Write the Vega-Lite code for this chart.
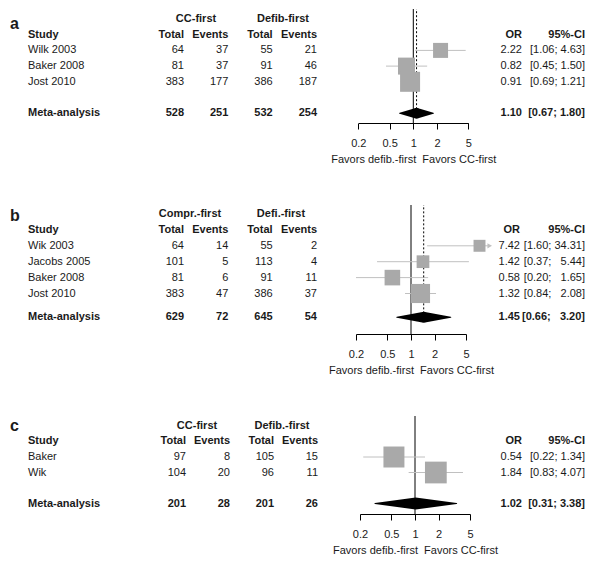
{
 "$schema": "https://vega.github.io/schema/vega-lite/v6.json",
 "padding": {"top": 8, "left": 0, "right": 0, "bottom": 0},
 "background": "white",
 "bounds": "flush",
 "spacing": 82,
 "config": {"font": "Liberation Sans", "view": {"stroke": null}, "scale": {"pointPadding": 0}},
 "datasets": {
  "table": [
   {"p":"a","r":0.34,"k":"head","letter":"a"},
   {"p":"a","r":0,"k":"head","g1":"CC-first","g2":"Defib-first"},
   {"p":"a","r":1,"k":"head","study":"Study","t1":"Total","e1":"Events","t2":"Total","e2":"Events","OR":"OR","CI":"95%-CI"},
   {"p":"a","r":2,"k":"study","study":"Wilk 2003","t1":64,"e1":37,"t2":55,"e2":21,"OR":"2.22","CI":"[1.06; 4.63]"},
   {"p":"a","r":3,"k":"study","study":"Baker 2008","t1":81,"e1":37,"t2":91,"e2":46,"OR":"0.82","CI":"[0.45; 1.50]"},
   {"p":"a","r":4,"k":"study","study":"Jost 2010","t1":383,"e1":177,"t2":386,"e2":187,"OR":"0.91","CI":"[0.69; 1.21]"},
   {"p":"a","r":6,"k":"meta","study":"Meta-analysis","t1":528,"e1":251,"t2":532,"e2":254,"OR":"1.10","CI":"[0.67; 1.80]"},
   {"p":"b","r":0.12,"k":"head","letter":"b"},
   {"p":"b","r":0,"k":"head","g1":"Compr.-first","g2":"Defi.-first"},
   {"p":"b","r":1,"k":"head","study":"Study","t1":"Total","e1":"Events","t2":"Total","e2":"Events","OR":"OR","CI":"95%-CI"},
   {"p":"b","r":2,"k":"study","study":"Wik 2003","t1":64,"e1":14,"t2":55,"e2":2,"OR":"7.42","CI":"[1.60; 34.31]"},
   {"p":"b","r":3,"k":"study","study":"Jacobs 2005","t1":101,"e1":5,"t2":113,"e2":4,"OR":"1.42","CI":"[0.37;\u00a0\u00a0\u00a05.44]"},
   {"p":"b","r":4,"k":"study","study":"Baker 2008","t1":81,"e1":6,"t2":91,"e2":11,"OR":"0.58","CI":"[0.20;\u00a0\u00a0\u00a01.65]"},
   {"p":"b","r":5,"k":"study","study":"Jost 2010","t1":383,"e1":47,"t2":386,"e2":37,"OR":"1.32","CI":"[0.84;\u00a0\u00a0\u00a02.08]"},
   {"p":"b","r":6.5,"k":"meta","study":"Meta-analysis","t1":629,"e1":72,"t2":645,"e2":54,"OR":"1.45","CI":"[0.66;\u00a0\u00a0\u00a03.20]"},
   {"p":"c","r":0,"k":"head","letter":"c"},
   {"p":"c","r":0,"k":"head","g1":"CC-first","g2":"Defib.-first"},
   {"p":"c","r":1,"k":"head","study":"Study","t1":"Total","e1":"Events","t2":"Total","e2":"Events","OR":"OR","CI":"95%-CI"},
   {"p":"c","r":2,"k":"study","study":"Baker","t1":97,"e1":8,"t2":105,"e2":15,"OR":"0.54","CI":"[0.22; 1.34]"},
   {"p":"c","r":3,"k":"study","study":"Wik","t1":104,"e1":20,"t2":96,"e2":11,"OR":"1.84","CI":"[0.83; 4.07]"},
   {"p":"c","r":5,"k":"meta","study":"Meta-analysis","t1":201,"e1":28,"t2":201,"e2":26,"OR":"1.02","CI":"[0.31; 3.38]"}
  ],
  "forest": [
   {"p":"a","r":2,"k":"study","or":2.22,"lo":1.06,"hi":4.63,"w":24.6},
   {"p":"a","r":3,"k":"study","or":0.82,"lo":0.45,"hi":1.50,"w":31.6},
   {"p":"a","r":4,"k":"study","or":0.91,"lo":0.69,"hi":1.21,"w":43.8},
   {"p":"a","r":6,"k":"meta","or":1.10,"lo":0.67,"hi":1.80},
   {"p":"b","r":2,"k":"study","or":7.42,"lo":1.60,"hi":34.31,"w":15.6},
   {"p":"b","r":3,"k":"study","or":1.42,"lo":0.37,"hi":5.44,"w":17.7},
   {"p":"b","r":4,"k":"study","or":0.58,"lo":0.20,"hi":1.65,"w":26.6},
   {"p":"b","r":5,"k":"study","or":1.32,"lo":0.84,"hi":2.08,"w":40.0},
   {"p":"b","r":6.5,"k":"meta","or":1.45,"lo":0.66,"hi":3.20},
   {"p":"c","r":2,"k":"study","or":0.54,"lo":0.22,"hi":1.34,"w":48.2},
   {"p":"c","r":3,"k":"study","or":1.84,"lo":0.83,"hi":4.07,"w":51.8},
   {"p":"c","r":5,"k":"meta","or":1.02,"lo":0.31,"hi":3.38}
  ]
 },
 "vconcat": [
  {
   "width": 600, "height": 114,
   "resolve": {"scale": {"x": "independent"}},
   "layer": [
    {"data":{"name":"table"},
     "transform":[{"filter":"datum.p === 'a'"},{"fold":["letter","study"],"as":["c","v"]},{"filter":"datum.v != null"}],
     "mark":{"type":"text","align":"left","baseline":"middle","fontSize":{"expr":"datum.c === 'letter' ? 16 : 11"},"fontWeight":{"expr":"datum.k === 'study' ? 'normal' : 'bold'"},"color":"#1a1a1a"},
     "encoding":{"x":{"field":"c","type":"nominal","scale":{"type":"point","padding":0,"domain":["letter","study"],"range":[10,28]},"axis":null},
      "y":{"field":"r","type":"quantitative","scale":{"domain":[-0.637,6.624],"reverse":true,"nice":false,"zero":false},"axis":null},
      "text":{"field":"v","type":"nominal"}}},
    {"data":{"name":"table"},
     "transform":[{"filter":"datum.p === 'a'"},{"fold":["t1","e1","t2","e2"],"as":["c","v"]},{"filter":"datum.v != null"}],
     "mark":{"type":"text","align":"right","baseline":"middle","fontSize":11,"fontWeight":{"expr":"datum.k === 'study' ? 'normal' : 'bold'"},"color":"#1a1a1a"},
     "encoding":{"x":{"field":"c","type":"nominal","scale":{"type":"point","padding":0,"domain":["t1","e1","t2","e2"],"range":[184,317]},"axis":null},
      "y":{"field":"r","type":"quantitative","scale":{"domain":[-0.637,6.624],"reverse":true,"nice":false,"zero":false},"axis":null},
      "text":{"field":"v","type":"nominal"}}},
    {"data":{"name":"table"},
     "transform":[{"filter":"datum.p === 'a'"},{"fold":["g1","g2"],"as":["c","v"]},{"filter":"datum.v != null"}],
     "mark":{"type":"text","align":"center","baseline":"middle","fontSize":11,"fontWeight":"bold","color":"#1a1a1a"},
     "encoding":{"x":{"field":"c","type":"nominal","scale":{"type":"point","padding":0,"domain":["g1","g2"],"range":[196,283]},"axis":null},
      "y":{"field":"r","type":"quantitative","scale":{"domain":[-0.637,6.624],"reverse":true,"nice":false,"zero":false},"axis":null},
      "text":{"field":"v","type":"nominal"}}},
    {"data":{"name":"table"},
     "transform":[{"filter":"datum.p === 'a'"},{"fold":["OR","CI"],"as":["c","v"]},{"filter":"datum.v != null"}],
     "mark":{"type":"text","align":"right","baseline":"middle","fontSize":11,"fontWeight":{"expr":"datum.k === 'study' ? 'normal' : 'bold'"},"color":"#1a1a1a"},
     "encoding":{"x":{"field":"c","type":"nominal","scale":{"type":"point","padding":0,"domain":["OR","CI"],"range":[522,585]},"axis":null},
      "y":{"field":"r","type":"quantitative","scale":{"domain":[-0.637,6.624],"reverse":true,"nice":false,"zero":false},"axis":null},
      "text":{"field":"v","type":"nominal"}}},
    {"data":{"name":"forest"},
     "transform":[{"filter":"datum.p === 'a' && datum.k === 'meta'"}],
     "mark":{"type":"rule","color":"#000","strokeWidth":1},
     "encoding":{"x":{"datum":1,"type":"quantitative","scale":{"type":"log","domain":[0.2,5],"range":[358.3,468.3],"nice":false},
        "axis":{"values":[0.2,0.5,1,2,5],"format":"~g","domain":true,"domainColor":"#000","grid":false,"ticks":true,"tickSize":6,"tickColor":"#000","labelFontSize":11,"labelColor":"#1a1a1a","labelPadding":8,"labelFlush":false,"labelOverlap":false,"title":"Favors defib.-first\u00a0\u00a0Favors CC-first","titleFontSize":11,"titleFontWeight":"normal","titleColor":"#1a1a1a","titlePadding":5}}}},
    {"data":{"name":"forest"},
     "transform":[{"filter":"datum.p === 'a'"}],
     "layer":[
      {"transform":[{"filter":"datum.k === 'study'"}],
       "mark":{"type":"rule","color":"#c0c0c0","strokeWidth":1},
       "encoding":{"x":{"field":"lo","type":"quantitative","scale":{"type":"log","domain":[0.1,10],"range":[334.6,492],"clamp":true,"nice":false},"axis":null},
        "x2":{"field":"hi"},
        "y":{"field":"r","type":"quantitative","scale":{"domain":[-0.637,6.624],"reverse":true,"nice":false,"zero":false},"axis":null}}},
      {"transform":[{"filter":"datum.k === 'meta'"}],
       "mark":{"type":"rule","color":"#000","strokeWidth":1,"strokeDash":[2,2]},
       "encoding":{"x":{"field":"or","type":"quantitative","scale":{"type":"log","domain":[0.1,10],"range":[334.6,492],"clamp":true,"nice":false},"axis":null},
        "y":{"field":"r","type":"quantitative","scale":{"domain":[-0.637,6.624],"reverse":true,"nice":false,"zero":false},"axis":null},
        "y2":{"value":0}}},
      {"transform":[{"filter":"datum.k === 'study'"}],
       "mark":{"type":"point","shape":"square","filled":true,"color":"#a9a9a9","opacity":1,"strokeWidth":0},
       "encoding":{"x":{"field":"or","type":"quantitative","scale":{"type":"log","domain":[0.1,10],"range":[334.6,492],"clamp":true,"nice":false},"axis":null},
        "y":{"field":"r","type":"quantitative","scale":{"domain":[-0.637,6.624],"reverse":true,"nice":false,"zero":false},"axis":null},
        "size":{"field":"w","type":"quantitative","scale":{"domain":[0,100],"range":[0,914]},"legend":null}}},
      {"transform":[{"filter":"datum.k === 'meta'"},{"fold":["lo","or","hi"],"as":["kk","v"]}],
       "mark":{"type":"trail","color":"#000"},
       "encoding":{"x":{"field":"v","type":"quantitative","scale":{"type":"log","domain":[0.1,10],"range":[334.6,492],"clamp":true,"nice":false},"axis":null},
        "y":{"field":"r","type":"quantitative","scale":{"domain":[-0.637,6.624],"reverse":true,"nice":false,"zero":false},"axis":null},
        "size":{"condition":{"test":"datum.kk === 'or'","value":11},"value":0}}}
     ]}
   ]
  },
  {
   "width": 600, "height": 129,
   "resolve": {"scale": {"x": "independent"}},
   "layer": [
    {"data":{"name":"table"},
     "transform":[{"filter":"datum.p === 'b'"},{"fold":["letter","study"],"as":["c","v"]},{"filter":"datum.v != null"}],
     "mark":{"type":"text","align":"left","baseline":"middle","fontSize":{"expr":"datum.c === 'letter' ? 16 : 11"},"fontWeight":{"expr":"datum.k === 'study' ? 'normal' : 'bold'"},"color":"#1a1a1a"},
     "encoding":{"x":{"field":"c","type":"nominal","scale":{"type":"point","padding":0,"domain":["letter","study"],"range":[10,28]},"axis":null},
      "y":{"field":"r","type":"quantitative","scale":{"domain":[-0.566,7.547],"reverse":true,"nice":false,"zero":false},"axis":null},
      "text":{"field":"v","type":"nominal"}}},
    {"data":{"name":"table"},
     "transform":[{"filter":"datum.p === 'b'"},{"fold":["t1","e1","t2","e2"],"as":["c","v"]},{"filter":"datum.v != null"}],
     "mark":{"type":"text","align":"right","baseline":"middle","fontSize":11,"fontWeight":{"expr":"datum.k === 'study' ? 'normal' : 'bold'"},"color":"#1a1a1a"},
     "encoding":{"x":{"field":"c","type":"nominal","scale":{"type":"point","padding":0,"domain":["t1","e1","t2","e2"],"range":[184,317]},"axis":null},
      "y":{"field":"r","type":"quantitative","scale":{"domain":[-0.566,7.547],"reverse":true,"nice":false,"zero":false},"axis":null},
      "text":{"field":"v","type":"nominal"}}},
    {"data":{"name":"table"},
     "transform":[{"filter":"datum.p === 'b'"},{"fold":["g1","g2"],"as":["c","v"]},{"filter":"datum.v != null"}],
     "mark":{"type":"text","align":"center","baseline":"middle","fontSize":11,"fontWeight":"bold","color":"#1a1a1a"},
     "encoding":{"x":{"field":"c","type":"nominal","scale":{"type":"point","padding":0,"domain":["g1","g2"],"range":[190,281]},"axis":null},
      "y":{"field":"r","type":"quantitative","scale":{"domain":[-0.566,7.547],"reverse":true,"nice":false,"zero":false},"axis":null},
      "text":{"field":"v","type":"nominal"}}},
    {"data":{"name":"table"},
     "transform":[{"filter":"datum.p === 'b'"},{"fold":["OR","CI"],"as":["c","v"]},{"filter":"datum.v != null"}],
     "mark":{"type":"text","align":"right","baseline":"middle","fontSize":11,"fontWeight":{"expr":"datum.k === 'study' ? 'normal' : 'bold'"},"color":"#1a1a1a"},
     "encoding":{"x":{"field":"c","type":"nominal","scale":{"type":"point","padding":0,"domain":["OR","CI"],"range":[520,585]},"axis":null},
      "y":{"field":"r","type":"quantitative","scale":{"domain":[-0.566,7.547],"reverse":true,"nice":false,"zero":false},"axis":null},
      "text":{"field":"v","type":"nominal"}}},
    {"data":{"name":"forest"},
     "transform":[{"filter":"datum.p === 'b' && datum.k === 'meta'"}],
     "mark":{"type":"rule","color":"#000","strokeWidth":1},
     "encoding":{"x":{"datum":1,"type":"quantitative","scale":{"type":"log","domain":[0.2,5],"range":[356,466],"nice":false},
        "axis":{"values":[0.2,0.5,1,2,5],"format":"~g","domain":true,"domainColor":"#000","grid":false,"ticks":true,"tickSize":6,"tickColor":"#000","labelFontSize":11,"labelColor":"#1a1a1a","labelPadding":8,"labelFlush":false,"labelOverlap":false,"title":"Favors defib.-first\u00a0\u00a0Favors CC-first","titleFontSize":11,"titleFontWeight":"normal","titleColor":"#1a1a1a","titlePadding":5}}}},
    {"data":{"name":"forest"},
     "transform":[{"filter":"datum.p === 'b'"}],
     "layer":[
      {"transform":[{"filter":"datum.k === 'study'"}],
       "mark":{"type":"rule","color":"#c0c0c0","strokeWidth":1},
       "encoding":{"x":{"field":"lo","type":"quantitative","scale":{"type":"log","domain":[0.1,10],"range":[332.3,489.7],"clamp":true,"nice":false},"axis":null},
        "x2":{"field":"hi"},
        "y":{"field":"r","type":"quantitative","scale":{"domain":[-0.566,7.547],"reverse":true,"nice":false,"zero":false},"axis":null}}},
      {"transform":[{"filter":"datum.k === 'meta'"}],
       "mark":{"type":"rule","color":"#000","strokeWidth":1,"strokeDash":[2,2]},
       "encoding":{"x":{"field":"or","type":"quantitative","scale":{"type":"log","domain":[0.1,10],"range":[332.3,489.7],"clamp":true,"nice":false},"axis":null},
        "y":{"field":"r","type":"quantitative","scale":{"domain":[-0.566,7.547],"reverse":true,"nice":false,"zero":false},"axis":null},
        "y2":{"value":0}}},
      {"transform":[{"filter":"datum.k === 'study'"}],
       "mark":{"type":"point","shape":"square","filled":true,"color":"#a9a9a9","opacity":1,"strokeWidth":0},
       "encoding":{"x":{"field":"or","type":"quantitative","scale":{"type":"log","domain":[0.1,10],"range":[332.3,489.7],"clamp":true,"nice":false},"axis":null},
        "y":{"field":"r","type":"quantitative","scale":{"domain":[-0.566,7.547],"reverse":true,"nice":false,"zero":false},"axis":null},
        "size":{"field":"w","type":"quantitative","scale":{"domain":[0,100],"range":[0,999]},"legend":null}}},
      {"transform":[{"filter":"datum.k === 'study' && datum.hi > 10"}],
       "mark":{"type":"point","shape":"triangle-right","filled":true,"color":"#c0c0c0","opacity":1,"size":28},
       "encoding":{"x":{"field":"hi","type":"quantitative","scale":{"type":"log","domain":[0.1,10],"range":[332.3,489.7],"clamp":true,"nice":false},"axis":null},
        "y":{"field":"r","type":"quantitative","scale":{"domain":[-0.566,7.547],"reverse":true,"nice":false,"zero":false},"axis":null}}},
      {"transform":[{"filter":"datum.k === 'meta'"},{"fold":["lo","or","hi"],"as":["kk","v"]}],
       "mark":{"type":"trail","color":"#000"},
       "encoding":{"x":{"field":"v","type":"quantitative","scale":{"type":"log","domain":[0.1,10],"range":[332.3,489.7],"clamp":true,"nice":false},"axis":null},
        "y":{"field":"r","type":"quantitative","scale":{"domain":[-0.566,7.547],"reverse":true,"nice":false,"zero":false},"axis":null},
        "size":{"condition":{"test":"datum.kk === 'or'","value":11},"value":0}}}
     ]}
   ]
  },
  {
   "width": 600, "height": 98,
   "resolve": {"scale": {"x": "independent"}},
   "layer": [
    {"data":{"name":"table"},
     "transform":[{"filter":"datum.p === 'c'"},{"fold":["letter","study"],"as":["c","v"]},{"filter":"datum.v != null"}],
     "mark":{"type":"text","align":"left","baseline":"middle","fontSize":{"expr":"datum.c === 'letter' ? 16 : 11"},"fontWeight":{"expr":"datum.k === 'study' ? 'normal' : 'bold'"},"color":"#1a1a1a"},
     "encoding":{"x":{"field":"c","type":"nominal","scale":{"type":"point","padding":0,"domain":["letter","study"],"range":[10,28]},"axis":null},
      "y":{"field":"r","type":"quantitative","scale":{"domain":[-0.645,5.677],"reverse":true,"nice":false,"zero":false},"axis":null},
      "text":{"field":"v","type":"nominal"}}},
    {"data":{"name":"table"},
     "transform":[{"filter":"datum.p === 'c'"},{"fold":["t1","e1","t2","e2"],"as":["c","v"]},{"filter":"datum.v != null"}],
     "mark":{"type":"text","align":"right","baseline":"middle","fontSize":11,"fontWeight":{"expr":"datum.k === 'study' ? 'normal' : 'bold'"},"color":"#1a1a1a"},
     "encoding":{"x":{"field":"c","type":"nominal","scale":{"type":"point","padding":0,"domain":["t1","e1","t2","e2"],"range":[186,318]},"axis":null},
      "y":{"field":"r","type":"quantitative","scale":{"domain":[-0.645,5.677],"reverse":true,"nice":false,"zero":false},"axis":null},
      "text":{"field":"v","type":"nominal"}}},
    {"data":{"name":"table"},
     "transform":[{"filter":"datum.p === 'c'"},{"fold":["g1","g2"],"as":["c","v"]},{"filter":"datum.v != null"}],
     "mark":{"type":"text","align":"center","baseline":"middle","fontSize":11,"fontWeight":"bold","color":"#1a1a1a"},
     "encoding":{"x":{"field":"c","type":"nominal","scale":{"type":"point","padding":0,"domain":["g1","g2"],"range":[197,282]},"axis":null},
      "y":{"field":"r","type":"quantitative","scale":{"domain":[-0.645,5.677],"reverse":true,"nice":false,"zero":false},"axis":null},
      "text":{"field":"v","type":"nominal"}}},
    {"data":{"name":"table"},
     "transform":[{"filter":"datum.p === 'c'"},{"fold":["OR","CI"],"as":["c","v"]},{"filter":"datum.v != null"}],
     "mark":{"type":"text","align":"right","baseline":"middle","fontSize":11,"fontWeight":{"expr":"datum.k === 'study' ? 'normal' : 'bold'"},"color":"#1a1a1a"},
     "encoding":{"x":{"field":"c","type":"nominal","scale":{"type":"point","padding":0,"domain":["OR","CI"],"range":[522,585]},"axis":null},
      "y":{"field":"r","type":"quantitative","scale":{"domain":[-0.645,5.677],"reverse":true,"nice":false,"zero":false},"axis":null},
      "text":{"field":"v","type":"nominal"}}},
    {"data":{"name":"forest"},
     "transform":[{"filter":"datum.p === 'c' && datum.k === 'meta'"}],
     "mark":{"type":"rule","color":"#000","strokeWidth":1},
     "encoding":{"x":{"datum":1,"type":"quantitative","scale":{"type":"log","domain":[0.2,5],"range":[360,470],"nice":false},
        "axis":{"values":[0.2,0.5,1,2,5],"format":"~g","domain":true,"domainColor":"#000","grid":false,"ticks":true,"tickSize":6,"tickColor":"#000","labelFontSize":11,"labelColor":"#1a1a1a","labelPadding":8,"labelFlush":false,"labelOverlap":false,"title":"Favors defib.-first\u00a0\u00a0Favors CC-first","titleFontSize":11,"titleFontWeight":"normal","titleColor":"#1a1a1a","titlePadding":5}}}},
    {"data":{"name":"forest"},
     "transform":[{"filter":"datum.p === 'c'"}],
     "layer":[
      {"transform":[{"filter":"datum.k === 'study'"}],
       "mark":{"type":"rule","color":"#c0c0c0","strokeWidth":1},
       "encoding":{"x":{"field":"lo","type":"quantitative","scale":{"type":"log","domain":[0.1,10],"range":[336.3,493.7],"clamp":true,"nice":false},"axis":null},
        "x2":{"field":"hi"},
        "y":{"field":"r","type":"quantitative","scale":{"domain":[-0.645,5.677],"reverse":true,"nice":false,"zero":false},"axis":null}}},
      {"transform":[{"filter":"datum.k === 'study'"}],
       "mark":{"type":"point","shape":"square","filled":true,"color":"#a9a9a9","opacity":1,"strokeWidth":0},
       "encoding":{"x":{"field":"or","type":"quantitative","scale":{"type":"log","domain":[0.1,10],"range":[336.3,493.7],"clamp":true,"nice":false},"axis":null},
        "y":{"field":"r","type":"quantitative","scale":{"domain":[-0.645,5.677],"reverse":true,"nice":false,"zero":false},"axis":null},
        "size":{"field":"w","type":"quantitative","scale":{"domain":[0,100],"range":[0,749]},"legend":null}}},
      {"transform":[{"filter":"datum.k === 'meta'"},{"fold":["lo","or","hi"],"as":["kk","v"]}],
       "mark":{"type":"trail","color":"#000"},
       "encoding":{"x":{"field":"v","type":"quantitative","scale":{"type":"log","domain":[0.1,10],"range":[336.3,493.7],"clamp":true,"nice":false},"axis":null},
        "y":{"field":"r","type":"quantitative","scale":{"domain":[-0.645,5.677],"reverse":true,"nice":false,"zero":false},"axis":null},
        "size":{"condition":{"test":"datum.kk === 'or'","value":12},"value":0}}}
     ]}
   ]
  }
 ]
}
